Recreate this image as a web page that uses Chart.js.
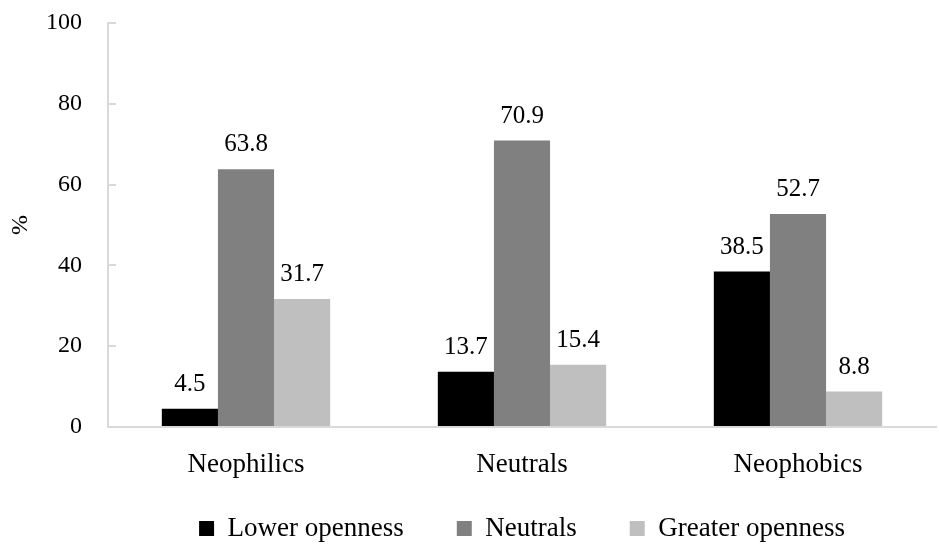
<!DOCTYPE html>
<html>
<head>
<meta charset="utf-8">
<script src="https://cdn.jsdelivr.net/npm/chart.js@4.4.0/dist/chart.umd.min.js"></script>
<style>
html,body{margin:0;padding:0;background:#fff;}
#wrap{width:939px;height:548px;position:relative;}
</style>
</head>
<body>
<div id="wrap"><canvas id="c" width="939" height="548"></canvas></div>
<script>
const categories = ["Neophilics", "Neutrals", "Neophobics"];
const seriesNames = ["Lower openness", "Neutrals", "Greater openness"];
const lowerOpenness = [4.5, 13.7, 38.5];
const neutrals = [63.8, 70.9, 52.7];
const greaterOpenness = [31.7, 15.4, 8.8];
const seriesColors = ["#000000", "#808080", "#bfbfbf"];
const yTicks = [0, 20, 40, 60, 80, 100];

const FONT = "'Liberation Serif', 'Times New Roman', serif";
const AXIS = "#d9d9d9";

const helper = {
  id: 'helper',
  afterInit(chart) {
    const lg = chart.legend;
    if (lg) {
      const f = lg.fit;
      lg.fit = function () { f.call(this); this.height = 61; };
      const d = lg.draw;
      lg.draw = function () {
        const t = this.top;
        this.top = t - 25;
        d.call(this);
        this.top = t;
      };
    }
  },
  afterDatasetsDraw(chart) {
    const ctx = chart.ctx;
    ctx.save();
    ctx.font = "25px " + FONT;
    ctx.fillStyle = "#000";
    ctx.textAlign = "center";
    ctx.textBaseline = "bottom";
    chart.data.datasets.forEach((ds, i) => {
      chart.getDatasetMeta(i).data.forEach((bar, j) => {
        ctx.fillText(ds.data[j].toFixed(1), bar.x, bar.y - 12);
      });
    });
    ctx.restore();
  }
};

new Chart(document.getElementById('c'), {
  type: 'bar',
  data: {
    labels: categories,
    datasets: [
      { label: seriesNames[0], data: lowerOpenness, backgroundColor: seriesColors[0] },
      { label: seriesNames[1], data: neutrals, backgroundColor: seriesColors[1] },
      { label: seriesNames[2], data: greaterOpenness, backgroundColor: seriesColors[2] }
    ]
  },
  options: {
    responsive: false,
    animation: false,
    devicePixelRatio: 1,
    layout: { padding: { left: 0, right: 3, top: 23, bottom: 0 } },
    datasets: { bar: { categoryPercentage: 0.61, barPercentage: 1.0 } },
    plugins: {
      legend: {
        position: 'bottom',
        fullSize: false,
        labels: {
          font: { family: FONT, size: 27 },
          color: '#000',
          boxWidth: 15,
          boxHeight: 15,
          padding: 53
        }
      },
      tooltip: { enabled: false }
    },
    scales: {
      x: {
        grid: { display: false, drawTicks: false },
        border: { display: true, color: AXIS, width: 2 },
        ticks: { font: { family: FONT, size: 27 }, color: '#000', padding: 22 },
        afterFit(scale) { scale.height = 60; }
      },
      y: {
        min: 0, max: 100,
        afterBuildTicks(scale) { scale.ticks = yTicks.map(v => ({ value: v })); },
        grid: { drawOnChartArea: false, drawTicks: true, tickLength: -8, color: AXIS, lineWidth: 2 },
        border: { display: true, color: AXIS, width: 2 },
        ticks: { font: { family: FONT, size: 24 }, color: '#000', padding: 34 },
        title: { display: true, text: '%', font: { family: FONT, size: 24 }, color: '#000', padding: { top: 6, bottom: 0 } },
        afterFit(scale) { scale.width = 108; scale.paddingTop = 0; scale.paddingBottom = 0; }
      }
    }
  },
  plugins: [helper]
});
</script>
</body>
</html>
